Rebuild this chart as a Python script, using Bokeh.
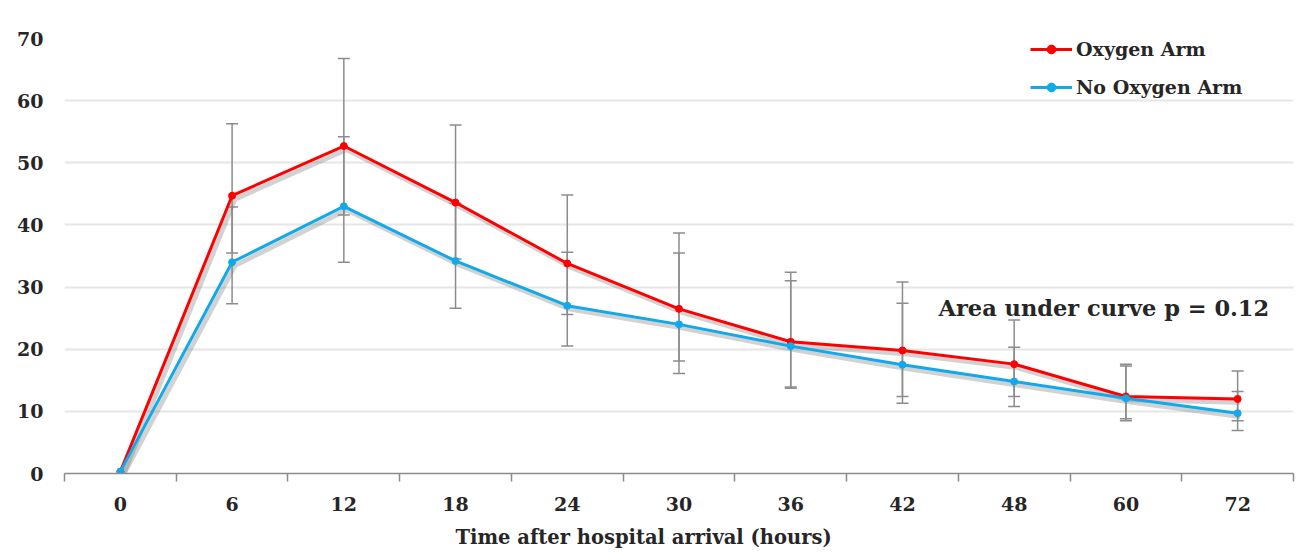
from bokeh.plotting import figure
from bokeh.models import (ColumnDataSource, Whisker, FixedTicker, Legend, LegendItem,
                          Label, Range1d, TeeHead, Title)
from bokeh.transform import dodge
from bokeh.embed import file_html
from bokeh.resources import INLINE

hours = ["0", "6", "12", "18", "24", "30", "36", "42", "48", "60", "72"]
oxygen = [0.3, 44.7, 52.7, 43.6, 33.8, 26.5, 21.2, 19.8, 17.6, 12.4, 12.0]
oxygen_lo = [None, 35.5, 41.6, 34.5, 25.6, 16.1, 13.9, 12.4, 12.4, 8.8, 8.5]
oxygen_hi = [None, 56.3, 66.8, 56.1, 44.8, 38.7, 32.4, 30.8, 24.7, 17.6, 16.5]
no_oxygen = [0.3, 34.0, 43.0, 34.2, 27.0, 24.0, 20.5, 17.5, 14.8, 12.1, 9.7]
no_oxygen_lo = [None, 27.3, 34.0, 26.6, 20.5, 18.1, 13.7, 11.3, 10.8, 8.5, 6.9]
no_oxygen_hi = [None, 42.9, 54.2, 43.5, 35.6, 35.5, 31.0, 27.4, 20.3, 17.3, 13.2]
y_ticks = [0, 10, 20, 30, 40, 50, 60, 70]
annotation = "Area under curve p = 0.12"
x_title = "Time after hospital arrival (hours)"

RED = "#FF0000"
BLUE = "#12A9EA"
GREY = "#8C8C8C"
TXT = "#262626"
FONT = "DejaVu Serif"

idx = list(range(len(hours)))

def src(y, lo, hi):
    return ColumnDataSource(dict(
        x=idx, y=y,
        lo=[v if v is not None else float("nan") for v in lo],
        hi=[v if v is not None else float("nan") for v in hi]))

s_ox = src(oxygen, oxygen_lo, oxygen_hi)
s_no = src(no_oxygen, no_oxygen_lo, no_oxygen_hi)

p = figure(width=1296, height=560, output_backend="svg", toolbar_location=None,
           x_range=Range1d(-0.5, len(hours) - 0.5), y_range=Range1d(0, 70),
           min_border_left=64, min_border_right=3, min_border_top=38, min_border_bottom=87)
p.outline_line_color = None
p.background_fill_color = "white"

# grid
p.xgrid.grid_line_color = None
p.ygrid.ticker = FixedTicker(ticks=y_ticks[1:])
p.ygrid.grid_line_color = "#E6E6E6"
p.ygrid.grid_line_width = 2

# y axis
p.yaxis.ticker = FixedTicker(ticks=y_ticks)
p.yaxis.axis_line_color = None
p.yaxis.major_tick_line_color = None
p.yaxis.minor_tick_line_color = None
p.yaxis.major_label_standoff = 15
p.yaxis.major_label_text_font = FONT
p.yaxis.major_label_text_font_style = "bold"
p.yaxis.major_label_text_font_size = "19px"
p.yaxis.major_label_text_color = TXT

# x axis: labels at centres, tick marks at category boundaries
p.xaxis.ticker = FixedTicker(ticks=idx, minor_ticks=[i - 0.5 for i in range(len(hours) + 1)])
p.xaxis.major_label_overrides = {i: h for i, h in zip(idx, hours)}
p.xaxis.major_tick_out = 0
p.xaxis.major_tick_in = 0
p.xaxis.minor_tick_out = 8
p.xaxis.minor_tick_in = 0
p.xaxis.minor_tick_line_color = GREY
p.xaxis.minor_tick_line_width = 1.5
p.xaxis.axis_line_color = GREY
p.xaxis.axis_line_width = 1.5
p.xaxis.major_label_standoff = 15
p.xaxis.major_label_text_font = FONT
p.xaxis.major_label_text_font_style = "bold"
p.xaxis.major_label_text_font_size = "19px"
p.xaxis.major_label_text_color = TXT

# x title (sits left of the frame's centre in the reference)
p.add_layout(Title(text=x_title, align="left", offset=391, standoff=21,
                   text_font=FONT, text_font_style="bold", text_font_size="19.5px",
                   text_color=TXT), "below")

# shadows
for s in (s_ox, s_no):
    p.line(x=dodge("x", 0.025), y=dodge("y", -0.55), source=s,
           line_color="#7F7F7F", line_alpha=0.35, line_width=5)

# error bars
for s in (s_ox, s_no):
    w = Whisker(base="x", upper="hi", lower="lo", source=s,
                line_color=GREY, line_width=1.5,
                upper_head=TeeHead(size=12, line_color=GREY, line_width=1.5),
                lower_head=TeeHead(size=12, line_color=GREY, line_width=1.5))
    p.add_layout(w)

# lines
r_ox_l = p.line("x", "y", source=s_ox, line_color=RED, line_width=3)
r_ox_m = p.scatter("x", "y", source=s_ox, size=7, fill_color=RED, line_color=RED)
r_no_l = p.line("x", "y", source=s_no, line_color=BLUE, line_width=3)
r_no_m = p.scatter("x", "y", source=s_no, size=7, fill_color=BLUE, line_color=BLUE)

legend = Legend(items=[LegendItem(label="Oxygen Arm", renderers=[r_ox_l, r_ox_m]),
                       LegendItem(label="No Oxygen Arm", renderers=[r_no_l, r_no_m])],
                location=(966, 375), border_line_color=None, background_fill_alpha=0,
                padding=0, margin=0, spacing=16, glyph_width=42, glyph_height=22,
                label_standoff=4, label_text_font=FONT, label_text_font_style="bold",
                label_text_font_size="19px", label_text_color=TXT, label_height=22)
p.add_layout(legend)

p.add_layout(Label(x=874, y=166, x_units="screen", y_units="screen", text=annotation,
                   text_font=FONT, text_font_style="bold", text_font_size="22.5px",
                   text_color=TXT, text_baseline="middle"))

open("out.html", "w").write(file_html(p, INLINE))
